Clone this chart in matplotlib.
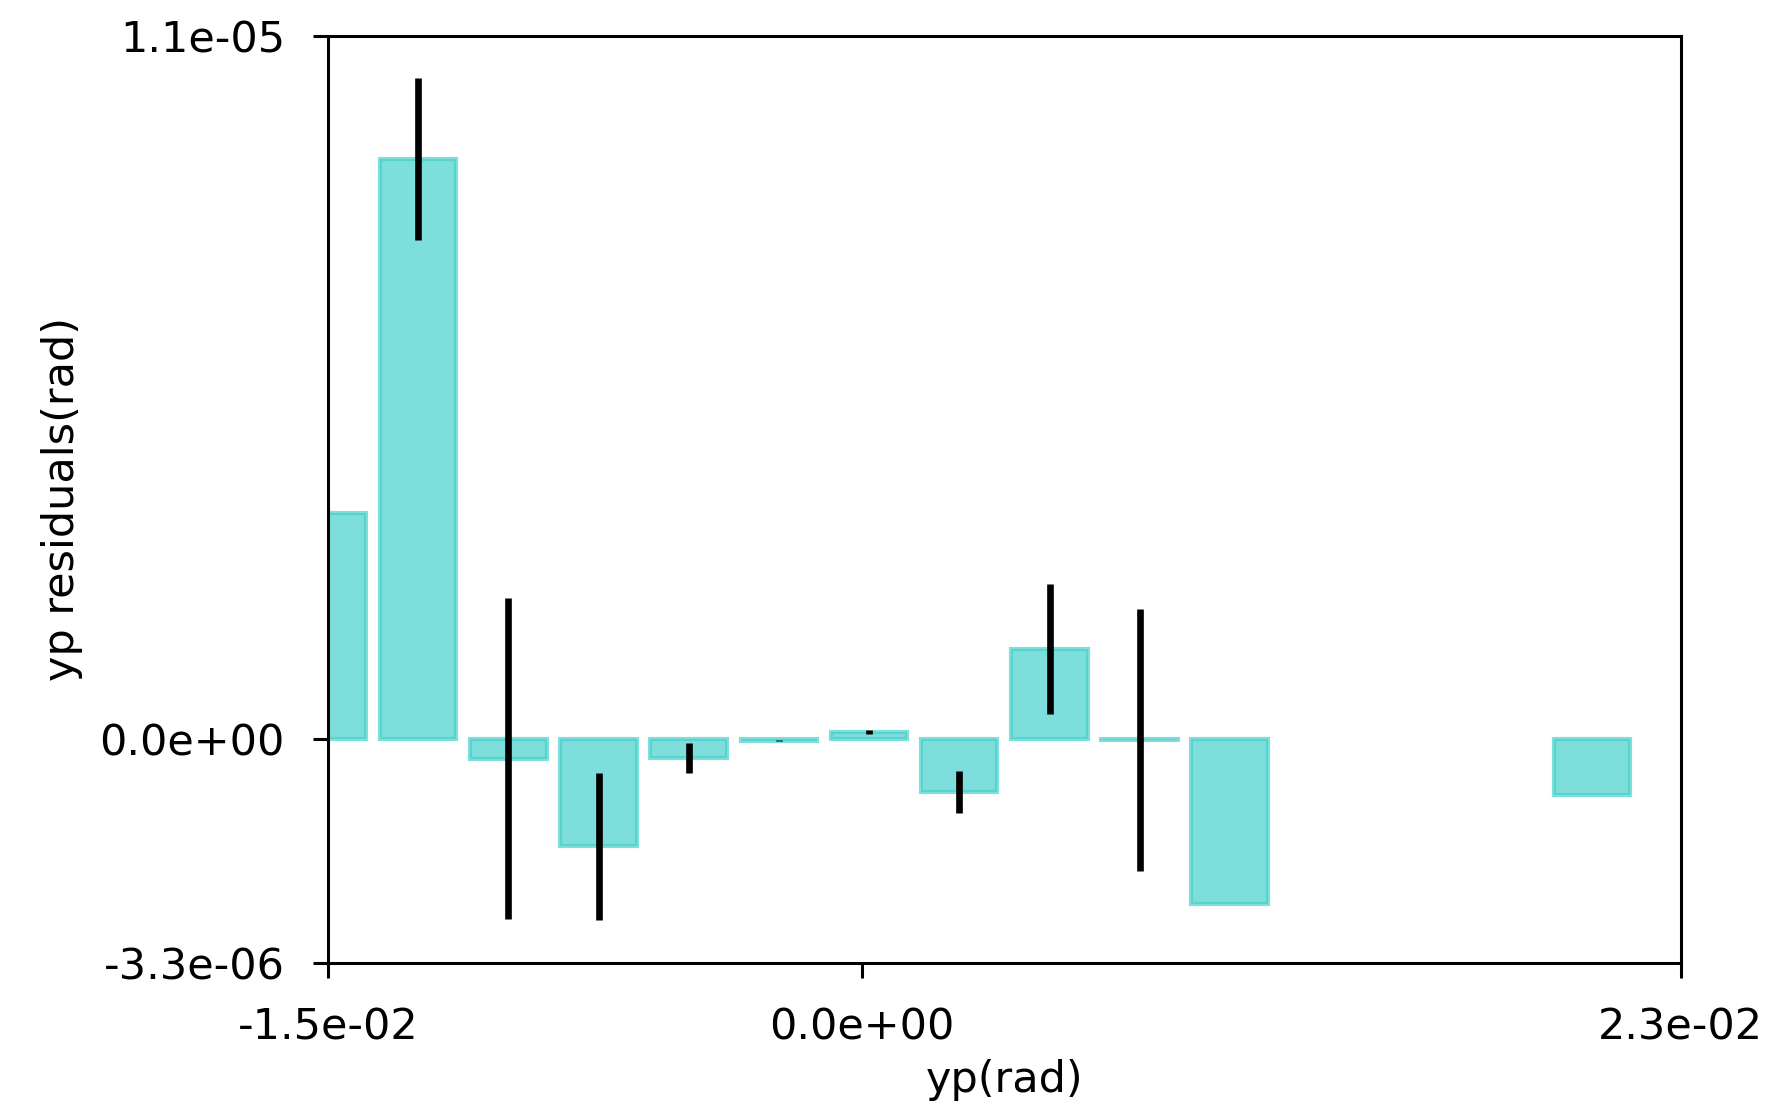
import matplotlib
matplotlib.use("Agg")
import matplotlib.pyplot as plt

# bin centres (rad) and residuals
yp = [-0.0150, -0.01247, -0.00993, -0.0074, -0.00487, -0.00233,
      0.0002, 0.00273, 0.00527, 0.0078, 0.01033, 0.0205]
resid = [3.38e-6, 8.66e-6, -2.9e-7, -1.60e-6, -2.8e-7, -2e-8,
         1.0e-7, -7.9e-7, 1.35e-6, -1e-8, -2.46e-6, -8.3e-7]
err = [0, 1.21e-6, 2.39e-6, 1.10e-6, 2.2e-7, 1e-8,
       3e-8, 3.1e-7, 9.7e-7, 1.96e-6, 0, 0]

xlim = (-0.015, 0.023)
ylim = (-3.34e-6, 1.05e-5)
xticks = [-0.015, 0.0, 0.023]
xticklabels = ["-1.5e-02", "0.0e+00", "2.3e-02"]
yticks = [-3.34e-6, 0.0, 1.05e-5]
yticklabels = ["-3.3e-06", "0.0e+00", "1.1e-05"]
bin_width = 0.00253

plt.rcParams["font.size"] = 15.5
fig = plt.figure(figsize=(1773 / 200, 1112 / 200), dpi=200)
ax = fig.add_axes([0.185, 0.134, 0.763, 0.834])

ax.bar(yp, resid, width=bin_width * 0.85, color="mediumturquoise",
       edgecolor="mediumturquoise", alpha=0.7, linewidth=1.5)
ax.errorbar(yp, resid, yerr=err, fmt="none", ecolor="black", elinewidth=2.4, capsize=0)

ax.set_xlim(*xlim)
ax.set_ylim(*ylim)
ax.set_xticks(xticks)
ax.set_xticklabels(xticklabels)
ax.set_yticks(yticks)
ax.set_yticklabels(yticklabels)
for s in ax.spines.values():
    s.set_linewidth(1.1)
ax.tick_params(length=5.5, width=1.1, pad=10)
ax.set_xlabel("yp(rad)", labelpad=4)
ax.set_ylabel("yp residuals(rad)", labelpad=6)

fig.savefig("out.png", dpi=200)
